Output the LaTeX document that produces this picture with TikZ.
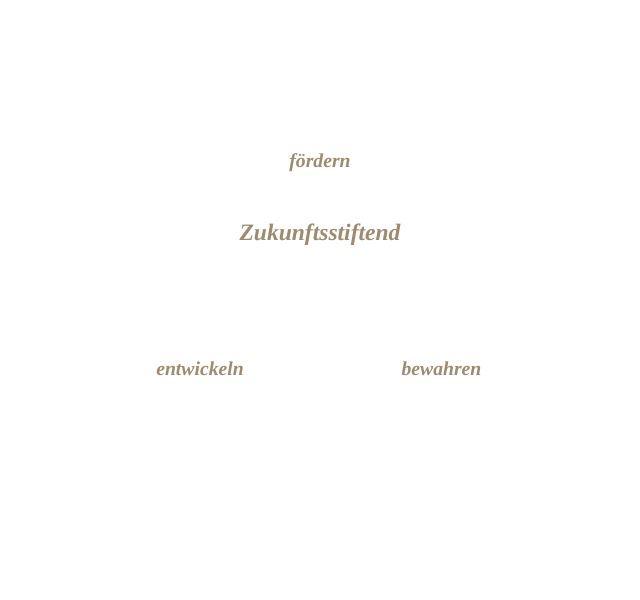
\documentclass[tikz,border=0pt]{standalone}
\usepackage{fontspec}
\setmainfont{Liberation Serif}
\usetikzlibrary{positioning}
\definecolor{sand}{RGB}{158,138,108}

\begin{document}
\begin{tikzpicture}[word/.style={text=sand, font=\bfseries\itshape\fontsize{5.6}{7}\selectfont},
        title/.style={text=sand, font=\bfseries\itshape\fontsize{6.7}{8}\selectfont}]
        \useasboundingbox (0, 0) rectangle (6.4, 6.0);
        \node[word] at (3.2, 4.37)(foerdern){fördern};
        \node[title] at (3.2, 3.65)(zukunft){Zukunftsstiftend};
        \node[word] at (2.0, 2.31)(entwickeln){entwickeln};
        \node[word] at (4.415, 2.31)(bewahren){bewahren};
    \end{tikzpicture}
\end{document}
